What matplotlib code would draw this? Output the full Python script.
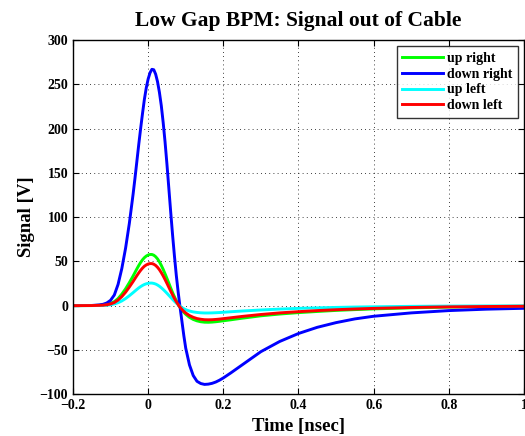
import matplotlib
matplotlib.use("Agg")
import matplotlib.pyplot as plt

plt.rcParams['font.family'] = ['Liberation Serif', 'DejaVu Serif']
plt.rcParams['font.weight'] = 'bold'

t = [-0.20, -0.15, -0.13, -0.12, -0.11, -0.10, -0.09, -0.08, -0.07, -0.06, -0.05, -0.04,
     -0.035, -0.03, -0.025, -0.02, -0.015, -0.01, -0.005, 0.0,
     0.005, 0.01, 0.015, 0.02, 0.025, 0.03, 0.035, 0.04, 0.045, 0.05,
     0.055, 0.06, 0.065, 0.07, 0.075, 0.08, 0.085, 0.09, 0.095, 0.10,
     0.11, 0.12, 0.13, 0.14, 0.15, 0.16, 0.17, 0.18, 0.19, 0.20,
     0.22, 0.25, 0.30, 0.35, 0.40, 0.45, 0.50, 0.55, 0.60,
     0.70, 0.80, 0.90, 1.00]

up_right = [0, 0.1, 0.4, 0.7, 1.3, 2.5, 4.5, 8, 13, 19, 26, 33.5,
            37.5, 41.5, 45.3, 48.8, 51.8, 54.2, 56, 57.2,
            57.8, 57.8, 57, 55.3, 52.8, 49.5, 45.5, 41, 36, 30.8,
            25.5, 20, 14.8, 10, 5.5, 1.5, -2, -5, -7.6, -9.8,
            -13.2, -15.6, -17.2, -18.2, -18.7, -18.8, -18.6, -18.2, -17.7, -17.1,
            -16, -14.2, -11.5, -9.5, -7.9, -6.6, -5.4, -4.5, -3.7,
            -2.5, -1.6, -1.1, -0.8]

down_right = [0, 0.2, 0.8, 1.5, 3, 6, 12, 24, 42, 65, 93, 126,
              144, 163, 182, 200, 217, 233, 246, 256,
              263, 267, 266.5, 261.5, 253, 241, 226, 207, 185, 160,
              133, 106, 80, 56, 34, 15, -2, -18, -34, -48,
              -67, -79, -85.5, -88, -89, -88.7, -87.8, -86.3, -84.2, -81.7,
              -76, -67, -52, -40.5, -31.5, -24.5, -19.2, -15, -12,
              -8.2, -5.6, -4, -3]

up_left = [0, 0.05, 0.15, 0.25, 0.5, 1, 1.9, 3.3, 5.3, 8, 11.2, 14.7,
           16.5, 18.3, 20, 21.5, 22.8, 23.9, 24.7, 25.2,
           25.5, 25.5, 25.1, 24.4, 23.3, 21.9, 20.2, 18.3, 16.2, 14,
           11.7, 9.4, 7.1, 4.9, 2.9, 1, -0.7, -2.2, -3.5, -4.6,
           -6.1, -7.1, -7.7, -8.1, -8.3, -8.3, -8.2, -8, -7.8, -7.5,
           -6.9, -6.1, -4.9, -3.9, -3.1, -2.5, -2, -1.6, -1.3,
           -0.8, -0.5, -0.35, -0.25]

down_left = [0, 0.1, 0.3, 0.5, 1, 1.9, 3.5, 6.3, 10.2, 15.2, 21, 27.3,
             30.6, 33.9, 37, 39.9, 42.4, 44.5, 46, 47,
             47.5, 47.5, 46.8, 45.4, 43.3, 40.6, 37.3, 33.6, 29.5, 25.2,
             20.8, 16.4, 12.1, 8.1, 4.4, 1.1, -1.8, -4.3, -6.5, -8.3,
             -11.2, -13.2, -14.6, -15.4, -15.9, -16, -15.9, -15.6, -15.2, -14.7,
             -13.7, -12.2, -10, -8.2, -6.8, -5.6, -4.6, -3.8, -3.1,
             -2.1, -1.4, -1, -0.7]

series_names = ['up right', 'down right', 'up left', 'down left']
series_colors = ['#00ff00', '#0000ff', '#00ffff', '#ff0000']

x_ticks = [-0.2, 0, 0.2, 0.4, 0.6, 0.8, 1.0]
x_tick_labels = ['\u22120.2', '0', '0.2', '0.4', '0.6', '0.8', '1']
y_ticks = [-100, -50, 0, 50, 100, 150, 200, 250, 300]
y_tick_labels = ['\u2212100', '\u221250', '0', '50', '100', '150', '200', '250', '300']

fig = plt.figure(figsize=(5.25, 4.36), dpi=100)
ax = fig.add_axes([0.139, 0.096, 0.859, 0.812])

for vals, name, col in zip([up_right, down_right, up_left, down_left], series_names, series_colors):
    ax.plot(t, vals, color=col, lw=2.1, label=name, solid_joinstyle='round')

ax.set_xlim(-0.2, 1.0)
ax.set_ylim(-100, 300)
ax.set_xticks(x_ticks)
ax.set_xticklabels(x_tick_labels)
ax.set_yticks(y_ticks)
ax.set_yticklabels(y_tick_labels)
ax.tick_params(direction='in', top=True, right=True, labelsize=10, length=4, width=0.8)
for lab in ax.get_xticklabels() + ax.get_yticklabels():
    lab.set_fontweight('bold')
ax.grid(True, color='black', linestyle=(0, (1, 4)), linewidth=0.6)
for sp in ax.spines.values():
    sp.set_linewidth(1.0)

ax.set_title('Low Gap BPM: Signal out of Cable', fontsize=15.5, fontweight='bold', pad=10)
ax.set_xlabel('Time [nsec]', fontsize=13.5, fontweight='bold', labelpad=4)
ax.set_ylabel('Signal [V]', fontsize=13.5, fontweight='bold', labelpad=3)

leg = ax.legend(loc='upper right', fontsize=10, frameon=True, fancybox=False,
                edgecolor='black', handlelength=2.9, borderaxespad=0.45,
                labelspacing=0.2, handletextpad=0.3, borderpad=0.4)
leg.get_frame().set_linewidth(1.0)
for txt in leg.get_texts():
    txt.set_fontweight('bold')

fig.savefig('out.png', dpi=100)
